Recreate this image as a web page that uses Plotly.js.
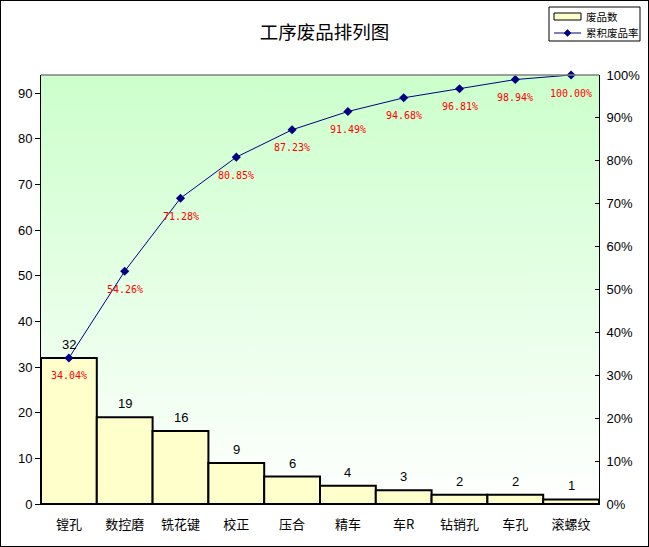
<!DOCTYPE html>
<html><head><meta charset="utf-8">
<script src="https://cdn.plot.ly/plotly-3.0.1.min.js"></script>
<style>
html,body{margin:0;padding:0;background:#fff;}
#wrap{position:relative;width:649px;height:547px;}
#chart{width:649px;height:547px;}
#frame{position:absolute;left:0;top:0;width:647px;height:545px;border:1px solid #000;pointer-events:none;}
</style></head>
<body>
<div id="wrap"><div id="chart"></div><div id="frame"></div></div>
<script>
const categories = ['镗孔','数控磨','铣花键','校正','压合','精车','车R','钻销孔','车孔','滚螺纹'];
const defects = [32,19,16,9,6,4,3,2,2,1];
const cumulativeRate = [0.3404,0.5426,0.7128,0.8085,0.8723,0.9149,0.9468,0.9681,0.9894,1.0000];
const rateLabels = ['34.04%','54.26%','71.28%','80.85%','87.23%','91.49%','94.68%','96.81%','98.94%','100.00%'];
const legendNames = ['废品数','累积废品率'];

const cv = document.createElement('canvas');
cv.width = 4; cv.height = 400;
const ctx = cv.getContext('2d');
const g = ctx.createLinearGradient(0,0,0,400);
g.addColorStop(0,'#CCFFCC');
g.addColorStop(1,'#FFFFFF');
ctx.fillStyle = g; ctx.fillRect(0,0,4,400);
const bgURL = cv.toDataURL('image/png');

const W = 649, H = 547, L = 41, R = 599, T = 75, B = 504;
const px = x => (x - L) / (R - L);
const py = y => (B - y) / (B - T);

const numFont = {family:'Liberation Sans, Arial, sans-serif', size:13, color:'#000'};
const cjkFont = {family:'Noto Sans CJK SC, sans-serif', size:13, color:'#000'};
const legFont = {family:'Noto Sans CJK SC, sans-serif', size:10.5, color:'#000'};

const traces = [
  {
    type:'bar', name:legendNames[0], x:categories, y:defects,
    marker:{color:'#FFFFCC', line:{color:'#000', width:2}},
    hoverinfo:'skip'
  },
  {
    type:'scatter', name:legendNames[1], x:categories, y:cumulativeRate, yaxis:'y2',
    mode:'lines+markers',
    line:{color:'#000080', width:1},
    marker:{symbol:'diamond', size:7, color:'#000080'},
    cliponaxis:false, hoverinfo:'skip'
  }
];

const annotations = [];
categories.forEach((c,i) => {
  annotations.push({x:c, y:defects[i], xref:'x', yref:'y', text:String(defects[i]),
    showarrow:false, yanchor:'bottom', yshift:4, font:numFont});
  annotations.push({x:c, y:cumulativeRate[i], xref:'x', yref:'y2', text:rateLabels[i],
    showarrow:false, yanchor:'middle', yshift:-18,
    font:{family:'DejaVu Sans Mono, monospace', size:10, color:'#FF0000'}});
});
annotations.push({xref:'paper', yref:'paper', x:px(584), y:py(16.5), xanchor:'left', yanchor:'middle',
  text:legendNames[0], showarrow:false, font:legFont});
annotations.push({xref:'paper', yref:'paper', x:px(584), y:py(33), xanchor:'left', yanchor:'middle',
  text:legendNames[1], showarrow:false, font:legFont});

const dm = (cx, cy, r) => `M${px(cx)},${py(cy-r)} L${px(cx+r)},${py(cy)} L${px(cx)},${py(cy+r)} L${px(cx-r)},${py(cy)} Z`;

const shapes = [
  {type:'line', xref:'paper', yref:'paper', x0:0, x1:1, y0:1, y1:1, line:{color:'#808080', width:1.5}},
  {type:'rect', xref:'paper', yref:'paper', x0:px(549), x1:px(640), y0:py(7), y1:py(41),
   line:{color:'#000', width:1}, fillcolor:'#FFFFFF'},
  {type:'rect', xref:'paper', yref:'paper', x0:px(554), x1:px(581), y0:py(13), y1:py(20),
   line:{color:'#000', width:1}, fillcolor:'#FFFFCC'},
  {type:'line', xref:'paper', yref:'paper', x0:px(554), x1:px(581), y0:py(33), y1:py(33),
   line:{color:'#000080', width:1}},
  {type:'path', xref:'paper', yref:'paper', path:dm(567.5,33,3.5), fillcolor:'#000080',
   line:{color:'#000080', width:0.5}}
];

const layout = {
  width:W, height:H,
  margin:{l:L, r:W-R, t:T, b:H-B, autoexpand:false},
  paper_bgcolor:'#FFFFFF', plot_bgcolor:'rgba(0,0,0,0)',
  title:{text:'工序废品排列图', x:px(324.5), xanchor:'center', xref:'paper',
         y:1-33/H, yanchor:'middle', yref:'container',
         font:{family:'Noto Sans CJK SC, sans-serif', size:18.5, color:'#000'}},
  bargap:0,
  showlegend:false,
  xaxis:{type:'category', range:[-0.5, categories.length-0.5], autorange:false,
         showline:true, linecolor:'#000', linewidth:1,
         ticks:'', tickfont:cjkFont, ticklabelstandoff:8, showgrid:false, zeroline:false, fixedrange:true},
  yaxis:{range:[0,94], dtick:10, tick0:0, showline:true, linecolor:'#000', linewidth:1,
         ticks:'outside', ticklen:5, tickcolor:'#000', tickfont:numFont,
         showgrid:false, zeroline:false, fixedrange:true},
  yaxis2:{range:[0,1], dtick:0.1, tick0:0, tickformat:'.0%', overlaying:'y', side:'right',
          showline:true, linecolor:'#000', linewidth:1,
          ticks:'inside', ticklen:4, tickcolor:'#000', tickfont:numFont, ticklabelstandoff:4,
          showgrid:false, zeroline:false, fixedrange:true},
  images:[{source:bgURL, xref:'paper', yref:'paper', x:0, y:1, sizex:1, sizey:1,
           xanchor:'left', yanchor:'top', sizing:'stretch', layer:'below'}],
  shapes:shapes,
  annotations:annotations
};

Plotly.newPlot('chart', traces, layout, {displayModeBar:false, staticPlot:true});
</script>
</body></html>
